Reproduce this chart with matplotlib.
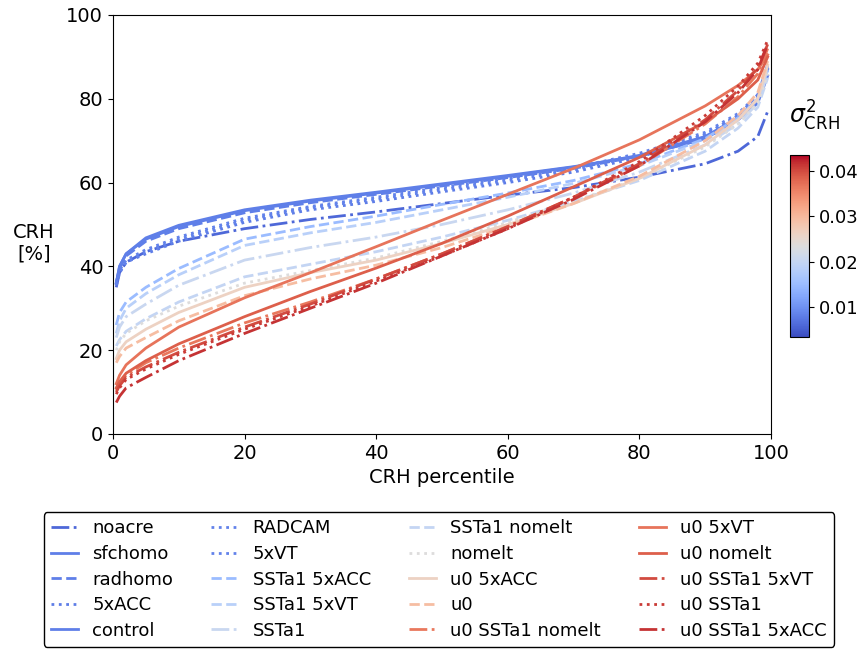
import matplotlib.pyplot as plt
import matplotlib as mpl
import numpy as np

plt.rcParams["font.family"] = "DejaVu Sans"
plt.rcParams["font.size"] = 14

# percentiles at which values were read
pct = [0.5, 1, 2, 5, 10, 20, 30, 40, 50, 60, 70, 80, 90, 95, 98, 99.5]

names = ["noacre", "sfchomo", "radhomo", "5xACC", "control",
         "RADCAM", "5xVT", "SSTa1 5xACC", "SSTa1 5xVT", "SSTa1",
         "SSTa1 nomelt", "nomelt", "u0 5xACC", "u0", "u0 SSTa1 nomelt",
         "u0 5xVT", "u0 nomelt", "u0 SSTa1 5xVT", "u0 SSTa1", "u0 SSTa1 5xACC"]

styles = ["-.", "-", "--", ":", "-",
          ":", ":", "--", "--", "-.",
          "--", ":", "-", "--", "-.",
          "-", "-", "-.", ":", "-."]

# CRH variance of each run (colour)
variance = [0.0060, 0.0082, 0.0082, 0.0080, 0.0082,
            0.0085, 0.0085, 0.0150, 0.0185, 0.0205,
            0.0200, 0.0235, 0.0262, 0.0295, 0.0365,
            0.0368, 0.0385, 0.0400, 0.0410, 0.0415]

crh = [
    [35, 38.5, 41, 43.5, 46, 49, 51.2, 53, 55, 57, 58.8, 61.3, 64.5, 67.5, 71, 77],
    [36, 40, 43, 46.5, 49.5, 53.3, 55.6, 57.5, 59.5, 61.5, 63.7, 66.5, 71, 75.5, 80, 87],
    [36, 39.5, 42.5, 46, 49, 52.8, 55.2, 57.2, 59.2, 61.2, 63.4, 66.3, 70.5, 75, 79.5, 86.5],
    [35.5, 38.5, 41, 43, 46, 50.5, 53.5, 55.5, 57.8, 60, 62.5, 66, 71.5, 76, 81, 88],
    [36, 40, 43, 46.8, 49.8, 53.5, 55.8, 57.7, 59.7, 61.7, 63.8, 66.3, 70.5, 75, 79, 85.5],
    [36, 39, 41.5, 44, 47, 51.5, 54.3, 56.5, 58.8, 61, 63.5, 67, 72, 76.5, 81, 88],
    [35.5, 38.5, 41, 43.5, 46.5, 51, 54, 56, 58.3, 60.5, 63, 66.5, 71.5, 76, 80.5, 87.5],
    [26, 29, 31.5, 35, 39.5, 46.5, 49.5, 52, 54.8, 57.5, 60.5, 64.5, 70.5, 75.5, 80, 87],
    [24, 27, 30, 33.5, 38, 45, 48, 50.5, 53.5, 56.5, 59.8, 64, 70, 75, 80, 87],
    [23, 25.5, 28, 31, 35.5, 41.5, 44.5, 47, 50, 53.5, 57.5, 62.5, 69, 74, 79, 86],
    [21, 22.5, 24.5, 27.5, 31.5, 37.5, 40.5, 43.5, 47, 51, 55.5, 60.5, 67.5, 73, 78, 85],
    [20, 22, 24, 27, 30.5, 36, 39, 42, 46, 50.5, 55.5, 61, 68.5, 74, 79, 86],
    [18, 20, 22, 25, 29, 35, 38.5, 41.5, 45.5, 50, 55, 61, 69, 75, 80, 88],
    [17, 18.5, 20.5, 23, 27, 33, 37, 40.3, 44.5, 49.5, 55, 61.5, 70, 76, 81.5, 89],
    [10.5, 12, 14, 17, 20.5, 26.5, 31.5, 37, 43, 49.5, 56.5, 64, 74, 80.5, 86, 92],
    [12, 14, 16.5, 20.5, 25.5, 32.5, 38.5, 44.7, 51, 57.2, 63.4, 70.2, 78.3, 83.2, 87, 90.5],
    [11, 12.5, 14.5, 17.5, 21.5, 28, 34, 39.6, 45.5, 52, 59, 66, 74.5, 80, 84.5, 90],
    [10, 11.5, 13.5, 16, 19.5, 25.5, 31, 37, 43, 49.5, 56.5, 64.5, 75, 82, 87.5, 93],
    [9.5, 11, 13, 15.5, 19, 25, 30.5, 36.5, 42.5, 49, 56.5, 65, 76, 83, 88.5, 94],
    [7.5, 9, 11, 13.5, 17.5, 24, 30, 36, 42.5, 49, 56, 64, 74.5, 81.5, 87, 93],
]

vmin, vmax = 0.0034, 0.0435
cmap = plt.get_cmap("coolwarm")
norm = mpl.colors.Normalize(vmin=vmin, vmax=vmax)

fig = plt.figure(figsize=(8.65, 6.52), dpi=100)
ax = fig.add_axes([0.1306, 0.3344, 0.7607, 0.6426])

for name, ls, var, y in zip(names, styles, variance, crh):
    ax.plot(pct, y, ls=ls, lw=2, color=cmap(norm(var)), label=name)

ax.set_xlim(0, 100)
ax.set_ylim(0, 100)
ax.set_xlabel("CRH percentile")
ax.set_ylabel("CRH\n[%]", rotation=0, va="center", ha="center")
ax.yaxis.set_label_coords(-0.12, 0.455)

cax = fig.add_axes([0.913, 0.483, 0.022, 0.279])
sm = mpl.cm.ScalarMappable(norm=norm, cmap=cmap)
cb = fig.colorbar(sm, cax=cax, ticks=[0.01, 0.02, 0.03, 0.04])
cb.ax.tick_params(labelsize=13)
fig.text(0.942, 0.796, r"$\sigma^2_{\mathrm{CRH}}$", fontsize=17, ha="center", va="bottom")

fig.legend(loc="lower center", bbox_to_anchor=(0.5075, 0.0077), borderaxespad=0,
           ncol=4, fontsize=13, edgecolor="black", framealpha=1,
           handlelength=1.5, columnspacing=2.1, labelspacing=0.42)

plt.savefig("out.png", dpi=100)
